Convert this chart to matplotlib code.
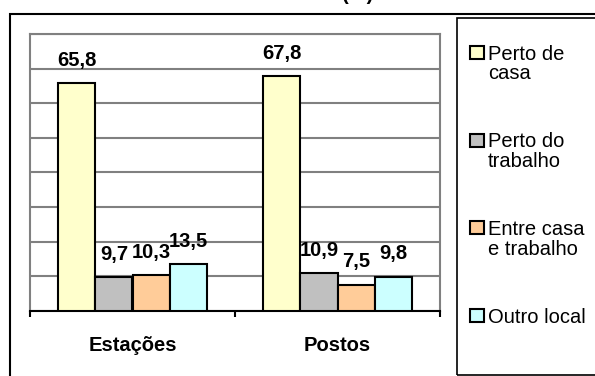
import matplotlib.pyplot as plt
import matplotlib.patches as mpatches
import numpy as np

plt.rcParams['font.family'] = ['Liberation Sans', 'DejaVu Sans']

# Data
categories = ['Estações', 'Postos']
series_names = ['Perto de\ncasa', 'Perto do\ntrabalho', 'Entre casa\ne trabalho', 'Outro local']
values = [
    [65.8, 67.8],   # Perto de casa
    [9.7, 10.9],    # Perto do trabalho
    [10.3, 7.5],    # Entre casa e trabalho
    [13.5, 9.8],    # Outro local
]
labels = [
    ['65,8', '67,8'],
    ['9,7', '10,9'],
    ['10,3', '7,5'],
    ['13,5', '9,8'],
]
colors = ['#FFFFCC', '#C0C0C0', '#FFCC99', '#CCFFFF']

W, H = 595, 376
fig = plt.figure(figsize=(W / 100, H / 100), dpi=100)

# px helpers (from top-left)
def fx(px):
    return px / W

def fy(py):
    return 1 - py / H

ax = fig.add_axes([fx(30), fy(310.7), fx(440) - fx(30), fy(34) - fy(310.7)])

n = len(values)
bw = 4 / 5.5 / n  # gap width 150%
x = np.arange(len(categories)) + 0.5
for i, (vals, lab, c) in enumerate(zip(values, labels, colors)):
    pos = x + (i - (n - 1) / 2) * bw
    ax.bar(pos, vals, width=bw, color=c, edgecolor='black', linewidth=1.5, zorder=3)
    for p, v, t in zip(pos, vals, lab):
        ax.annotate(t, (p, v), xytext=(0, 12.5), textcoords='offset points',
                    ha='center', va='baseline', fontsize=14.5, fontweight='bold', zorder=4)

ax.set_xlim(0, 2)
ax.set_ylim(0, 80)
ax.set_yticks(np.arange(0, 81, 10))
ax.tick_params(axis='y', left=False, labelleft=False)
ax.yaxis.grid(True, color='#808080', linewidth=1.5, zorder=0)
ax.set_axisbelow(True)

ax.set_xticks([0, 1, 2])
ax.set_xticklabels([])
ax.tick_params(axis='x', which='major', direction='out', length=4.5, width=1.5, color='black')
ax.set_xticks(x, minor=True)
ax.set_xticklabels(categories, minor=True, fontsize=14.5, fontweight='bold')
ax.tick_params(axis='x', which='minor', length=0, pad=18)

for s in ['left', 'top', 'right']:
    ax.spines[s].set_color('#808080')
    ax.spines[s].set_linewidth(1.5)
ax.spines['bottom'].set_color('black')
ax.spines['bottom'].set_linewidth(1.5)

# title, cut off at the top like in the source
fig.text(fx(358), 1.0, '(%)', ha='center', va='baseline', fontsize=14.5, fontweight='bold')

# outer chart frame and legend box
fig.patches.append(mpatches.Rectangle((fx(10), -0.1), 1.2, fy(14) + 0.1, fill=False,
                                      edgecolor='black', linewidth=1.5, transform=fig.transFigure))
fig.patches.append(mpatches.Rectangle((fx(457), fy(375)), 1.2, fy(18) - fy(375), fill=False,
                                      edgecolor='black', linewidth=1.2, transform=fig.transFigure))

# legend (swatch next to the first line of each label)
base = 60
step = 87.7
for i, (name, c) in enumerate(zip(series_names, colors)):
    by = base + i * step
    fig.patches.append(mpatches.Rectangle((fx(470), fy(by - 1)), fx(484) - fx(470), fy(by - 14) - fy(by - 1),
                                          facecolor=c, edgecolor='black', linewidth=1.5,
                                          transform=fig.transFigure))
    fig.text(fx(488), fy(by - 15.5), name, ha='left', va='top', fontsize=14.5, linespacing=1.05)

fig.savefig('out.png', dpi=100)
